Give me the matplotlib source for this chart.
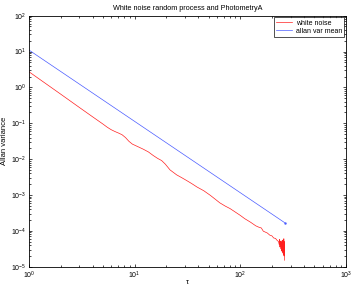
import numpy as np
import matplotlib
matplotlib.use("Agg")
import matplotlib.pyplot as plt
from matplotlib.ticker import FixedLocator, NullFormatter, LogFormatterSciNotation

plt.rcParams['font.family'] = ['Liberation Sans', 'DejaVu Sans']
plt.rcParams['mathtext.fontset'] = 'custom'
plt.rcParams['mathtext.rm'] = 'Liberation Sans'
plt.rcParams['mathtext.it'] = 'Liberation Sans:italic'

title = "White noise random process and PhotometryA"
xlabel = "\u03c4"
ylabel = "Allan variance"
series_names = ["white noise", "allan var mean"]

# white noise Allan variance (tau, log10 value)
red_tau = [1, 2, 3, 4, 5, 5.5, 6.0, 6.5, 7.0, 7.6, 8.2, 8.8, 9.5, 10.5, 12, 13.5,
           15, 16.5, 18, 19.5, 21.6, 25, 28, 32, 35, 39, 45, 52, 58, 64,
           72, 80, 90, 100, 110, 125, 140, 150, 158, 165, 180, 190, 199, 207, 215,
           222, 230,
           233, 235, 237, 239, 241, 243, 245, 247, 249, 251, 253, 255, 257, 258,
           259, 260, 261, 262]
red_log = [0.436, -0.19, -0.56, -0.82, -1.02, -1.11, -1.18, -1.23, -1.27, -1.32,
           -1.40, -1.50, -1.58, -1.64, -1.72, -1.80, -1.90, -1.98, -2.04, -2.14,
           -2.30, -2.44, -2.52, -2.62, -2.69, -2.78, -2.88, -3.01, -3.12, -3.22,
           -3.31, -3.38, -3.48, -3.57, -3.66, -3.76, -3.86, -3.90, -3.92, -4.01,
           -4.06, -4.12, -4.14, -4.20, -4.21, -4.26, -4.30,
           -4.38, -4.24, -4.45, -4.30, -4.50, -4.28, -4.55, -4.33, -4.58, -4.26,
           -4.62, -4.35, -4.66, -4.22, -4.70, -4.30, -4.58, -4.82]

blue_tau = [1, 262]
blue_val = [11.0, 1.7e-4]

x_major = [1, 10, 100, 1000]
y_major = [1e-5, 1e-4, 1e-3, 1e-2, 1e-1, 1, 10, 100]

red_val = [10 ** v for v in red_log]

fig = plt.figure(figsize=(3.54, 2.90), dpi=100)
ax = fig.add_axes([29/354, 1-266.7/290, (346-29)/354, (266.7-15.7)/290])

ax.plot(red_tau, red_val, color='#ff2020', lw=0.5, label=series_names[0])
ax.plot(blue_tau, blue_val, color='#4a5cff', lw=0.5, label=series_names[1])
ax.plot([blue_tau[-1]], [blue_val[-1]], marker='.', ms=1.5, color='#4a5cff')

ax.set_xscale('log')
ax.set_yscale('log')
ax.set_xlim(1, 1000)
ax.set_ylim(1e-5, 1e2)
ax.xaxis.set_major_locator(FixedLocator(x_major))
ax.yaxis.set_major_locator(FixedLocator(y_major))
ax.xaxis.set_major_formatter(LogFormatterSciNotation())
ax.yaxis.set_major_formatter(LogFormatterSciNotation())
x_minor = [m * d for d in x_major[:-1] for m in range(2, 10)]
y_minor = [m * d for d in y_major[:-1] for m in range(2, 10)]
ax.xaxis.set_minor_locator(FixedLocator(x_minor))
ax.yaxis.set_minor_locator(FixedLocator(y_minor))
ax.xaxis.set_minor_formatter(NullFormatter())
ax.yaxis.set_minor_formatter(NullFormatter())
ax.tick_params(which='both', direction='in', top=True, right=True, labelsize=5, width=0.5, pad=2)
ax.tick_params(which='major', length=2.5)
ax.tick_params(which='minor', length=1.3)
for s in ax.spines.values():
    s.set_linewidth(0.6)

ax.set_title(title, fontsize=5.2, pad=4)
ax.set_xlabel(xlabel, fontsize=5.5, labelpad=-1.5)
ax.set_ylabel(ylabel, fontsize=5.5, labelpad=2)

leg = ax.legend(loc='upper right', fontsize=5, frameon=True, fancybox=False,
                edgecolor='black', borderaxespad=0.25, handlelength=2.2,
                borderpad=0.3, labelspacing=0.2, handletextpad=0.6)
leg.get_frame().set_linewidth(0.6)

fig.savefig("out.png", dpi=100)
